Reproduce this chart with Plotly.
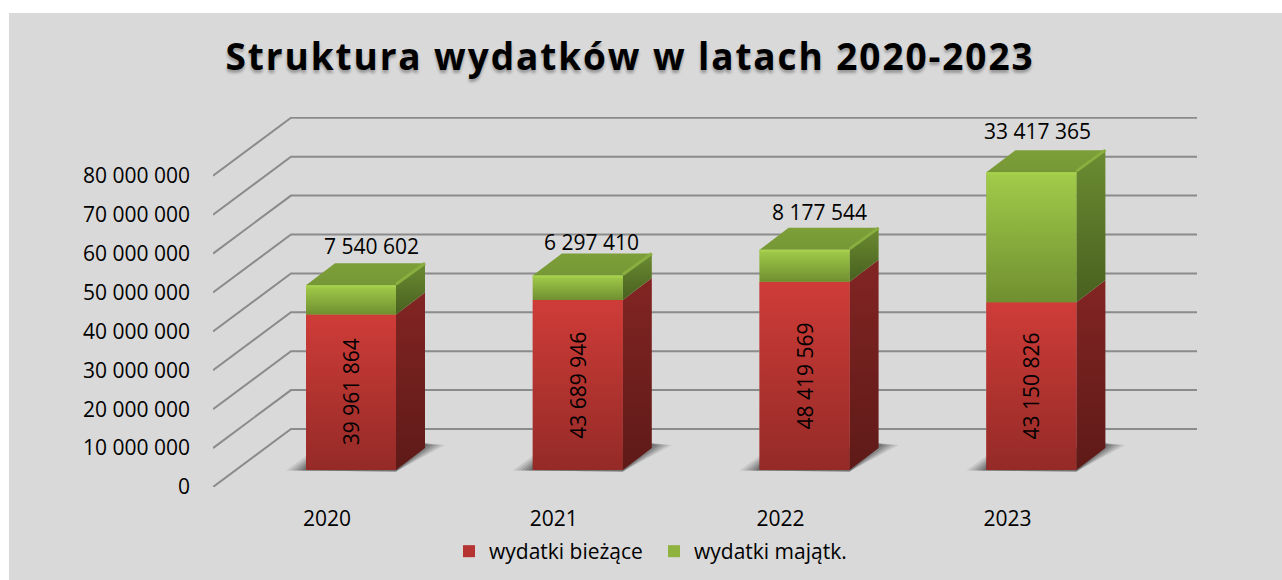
import plotly.graph_objects as go

years = ["2020", "2021", "2022", "2023"]
biezace = [39961864, 43689946, 48419569, 43150826]
majatk = [7540602, 6297410, 8177544, 33417365]
y_ticks = [0, 10000000, 20000000, 30000000, 40000000, 50000000, 60000000, 70000000, 80000000]

W, H = 1282, 580
LEFT, RIGHT, TOP, BOTTOM = 213, 1197, 117, 487
PX_X = 226.8      # px per category
PX_Y = 38.9 / 1e7  # px per value unit
X0_PX = 351.0


def ux(px):
    return px / PX_X


def uy(px):
    return px / PX_Y


FLOOR = uy(17)
BAR_W = ux(90)
DX, DY = ux(29), uy(22)
WALL_DX, WALL_DY = ux(78), uy(58)
xr = [(LEFT - X0_PX) / PX_X, (RIGHT - X0_PX) / PX_X]
yr = [0, (BOTTOM - TOP) / PX_Y]
idx = list(range(len(years)))
fmt = lambda v: f"{v:,}".replace(",", " ")

fig = go.Figure()


def poly(xs, ys, top_c, bot_c):
    fig.add_trace(go.Scatter(
        x=xs + [xs[0]], y=ys + [ys[0]], mode="lines", fill="toself", line=dict(width=0),
        fillgradient=dict(type="vertical", colorscale=[[0, bot_c], [1, top_c]]),
        showlegend=False, hoverinfo="skip"))


fig.add_trace(go.Bar(x=idx, y=biezace, base=[FLOOR] * 4, width=BAR_W, name="wydatki bieżące",
                     marker=dict(color="#b53331", line=dict(width=0))))
fig.add_trace(go.Bar(x=idx, y=majatk, base=[FLOOR + v for v in biezace], width=BAR_W,
                     name="wydatki majątk.", marker=dict(color="#8fb33e", line=dict(width=0))))

for v in y_ticks:
    fig.add_trace(go.Scatter(
        x=[xr[0], xr[0] + WALL_DX, xr[1]], y=[v, v + WALL_DY, v + WALL_DY],
        mode="lines", line=dict(color="#8b8b8b", width=2), showlegend=False, hoverinfo="skip"))

for k, a in zip([20, 16, 12, 8, 4], [0.10, 0.13, 0.15, 0.18, 0.20]):
    sx2, sy2 = [], []
    for i in idx:
        x1 = i - BAR_W / 2
        x2 = i + BAR_W / 2
        sx2 += [x1 - ux(k), x2, x2 + DX + ux(k), x2 + DX, x1, None]
        sy2 += [FLOOR - uy(0.5), FLOOR - uy(1.5), FLOOR + DY + uy(3),
                FLOOR + DY + uy(4 + k * 0.05), FLOOR + uy(k * 0.6 + 2), None]
    fig.add_trace(go.Scatter(x=sx2, y=sy2, mode="lines", fill="toself", line=dict(width=0),
                             fillcolor=f"rgba(40,40,40,{a})", showlegend=False, hoverinfo="skip"))

for i in idx:
    x1, x2 = i - BAR_W / 2, i + BAR_W / 2
    y0 = FLOOR
    y1 = FLOOR + biezace[i]
    y2 = y1 + majatk[i]
    poly([x2, x2 + DX, x2 + DX, x2], [y0, y0 + DY, y1 + DY, y1], "#822523", "#5e1a18")
    poly([x1, x2, x2, x1], [y0, y0, y1, y1], "#cf3c38", "#942a27")
    poly([x2, x2 + DX, x2 + DX, x2], [y1, y1 + DY, y2 + DY, y2], "#6c8c32", "#48601f")
    poly([x1, x2, x2, x1], [y1, y1, y2, y2], "#a2cc4a", "#708f30")
    poly([x1, x2, x2 + DX, x1 + DX], [y2, y2, y2 + DY, y2 + DY], "#7d9f38", "#769736")
    fig.add_trace(go.Scatter(x=[x2, x2 + DX], y=[y2 + uy(1), y2 + DY + uy(0)], mode="lines",
                             line=dict(color="#8aae40", width=3), showlegend=False, hoverinfo="skip"))
    fig.add_trace(go.Scatter(x=[x1, x2], y=[y2 - uy(1), y2 - uy(1)], mode="lines",
                             line=dict(color="#a8d24e", width=2), showlegend=False, hoverinfo="skip"))

shift_x = [20, 14, 15, 6]
shift_y = [39, 34, 38, 41]
for i in idx:
    y2 = FLOOR + biezace[i] + majatk[i]
    fig.add_annotation(x=i, y=y2, text=fmt(majatk[i]), showarrow=False, xshift=shift_x[i], yshift=shift_y[i],
                       font=dict(size=21, color="#000000"))
    fig.add_annotation(x=i, y=FLOOR + biezace[i] / 2, text=fmt(biezace[i]), showarrow=False, textangle=-90,
                       font=dict(size=21, color="#000000"))

fig.add_shape(type="rect", xref="paper", yref="paper", layer="below",
              x0=(9 - LEFT) / (RIGHT - LEFT), x1=(W - LEFT) / (RIGHT - LEFT),
              y0=(BOTTOM - H) / (BOTTOM - TOP), y1=(BOTTOM - 13) / (BOTTOM - TOP),
              fillcolor="#d9d9d9", line=dict(width=0))

fig.update_layout(
    width=W, height=H, barmode="overlay", autosize=False,
    margin=dict(l=LEFT, r=W - RIGHT, t=TOP, b=H - BOTTOM, pad=0, autoexpand=False),
    paper_bgcolor="#ffffff", plot_bgcolor="rgba(0,0,0,0)",
    font=dict(family="Open Sans", size=21, color="#000000"),
    separators=", ",
    title=dict(text="Struktura wydatków w latach 2020-2023", x=630 / W, xanchor="center", y=1 - 57 / H,
               yanchor="middle",
               font=dict(family="Open Sans", size=37, weight="bold", color="#000000",
                         shadow="0px 3px 3px rgba(0,0,0,0.3)")),
    xaxis=dict(range=xr, tickmode="array", tickvals=[i - 24 / PX_X for i in idx], ticktext=years,
               showgrid=False, zeroline=False, showline=False, ticks="", ticklabelstandoff=17),
    yaxis=dict(range=yr, tickmode="array", tickvals=y_ticks, tickformat=",d", showgrid=False,
               zeroline=False, showline=False, ticks="", ticklabelstandoff=22),
    legend=dict(orientation="h", x=(449 - LEFT) / (RIGHT - LEFT), xanchor="left", y=-0.119, yanchor="top",
                font=dict(size=21), entrywidth=160, entrywidthmode="pixels", bgcolor="rgba(0,0,0,0)"),
    showlegend=True,
)

post = ("document.body.style.margin='0';"
        "document.querySelectorAll('.gtitle').forEach(function(t){t.style.letterSpacing='1.9px';});")
fig.write_html("out.html", post_script=post, config={"displayModeBar": False})
